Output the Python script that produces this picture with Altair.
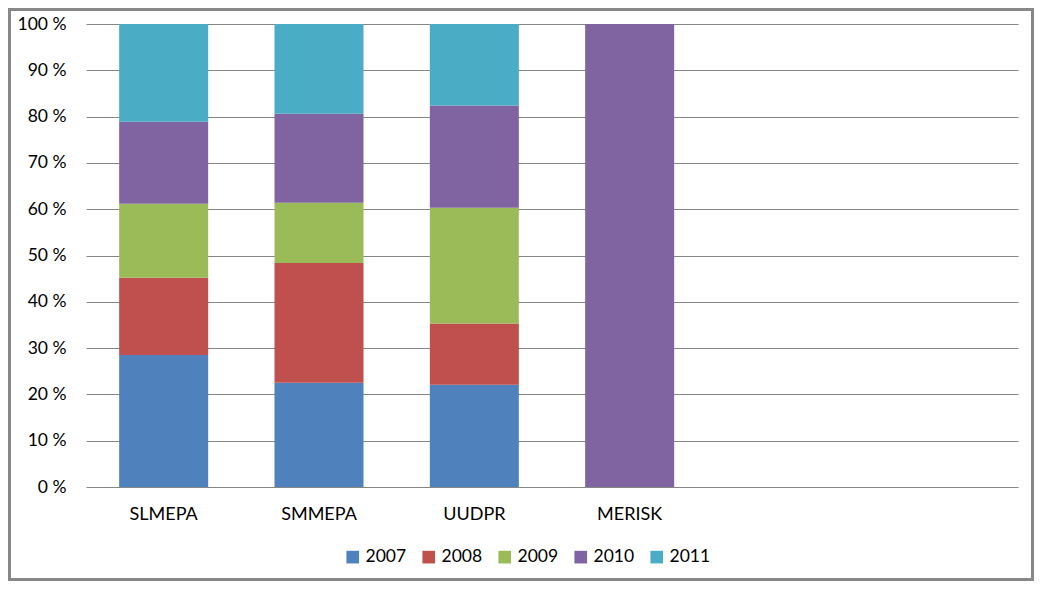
import altair as alt
import pandas as pd

categories = ["SLMEPA", "SMMEPA", "UUDPR", "MERISK", " ", "  "]
years = ["2007", "2008", "2009", "2010", "2011"]
colors = ["#4F81BD", "#C0504D", "#9BBB59", "#8064A2", "#4BACC6"]

v2007 = [28.5, 22.5, 22.1, 0.0]
v2008 = [16.7, 25.9, 13.2, 0.0]
v2009 = [16.0, 13.0, 25.0, 0.0]
v2010 = [17.7, 19.2, 22.1, 100.0]
v2011 = [21.1, 19.4, 17.6, 0.0]

series = [v2007, v2008, v2009, v2010, v2011]
rows = []
for yi, y in enumerate(years):
    for ci, c in enumerate(categories[:4]):
        rows.append({"cat": c, "year": y, "order": yi, "value": series[yi][ci]})
df = pd.DataFrame(rows)

FONT = "Lato"

bars = alt.Chart(df).mark_bar(stroke=None).encode(
    x=alt.X("cat:N", scale=alt.Scale(domain=categories, paddingInner=0.427, paddingOuter=0.2135),
            axis=alt.Axis(title=None, labelAngle=0, ticks=False, domain=False,
                          labelFontSize=18, labelFont=FONT, labelColor="#000000",
                          labelFontWeight="normal", labelPadding=18)),
    y=alt.Y("value:Q", stack="normalize",
            scale=alt.Scale(domain=[0, 1], nice=False),
            axis=alt.Axis(title=None, values=[i / 10 for i in range(11)],
                          labelExpr="format(datum.value*100, 'd') + ' %'",
                          ticks=False, domain=False, grid=True, gridColor="#868686",
                          gridWidth=1, labelFontSize=17.5, labelFont=FONT,
                          labelFontWeight="normal",
                          labelColor="#000000", labelPadding=20)),
    color=alt.Color("year:N", scale=alt.Scale(domain=years, range=colors),
                    legend=alt.Legend(title=None, orient="none", direction="horizontal",
                                      legendX=258, legendY=524, symbolType="square",
                                      symbolSize=160, symbolStrokeWidth=0,
                                      labelFontSize=17.5, labelFont=FONT, labelColor="#000000",
                                      labelFontWeight="normal",
                                      labelOffset=4, columnPadding=13)),
    order=alt.Order("order:Q"),
)

frame = alt.Chart(pd.DataFrame({"a": [0]})).mark_rect(
    fill=None, stroke="#888888", strokeWidth=3
).encode(
    x=alt.value(-76.5), x2=alt.value(946.5), y=alt.value(-14.5), y2=alt.value(555.5)
)

chart = alt.layer(bars, frame).properties(
    width=932, height=463,
    autosize=alt.AutoSizeParams(type="none"),
    padding={"left": 78, "top": 16, "right": 16, "bottom": 94},
    background="#ffffff",
).configure_view(stroke=None)

chart.save("out.html", embed_options={"renderer": "svg", "actions": False})
